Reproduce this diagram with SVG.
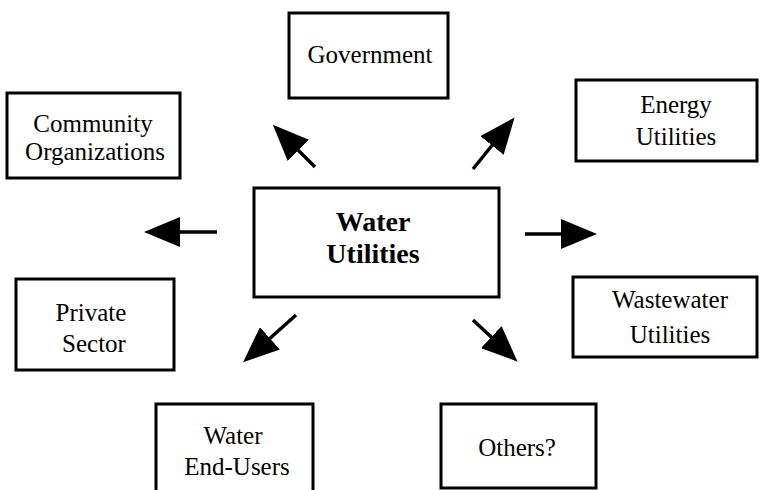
<svg xmlns="http://www.w3.org/2000/svg" width="765" height="490" viewBox="0 0 765 490">
<style>
  .box { fill: #fff; stroke: #000; stroke-width: 3; }
  .t { font-family: "Liberation Serif", "Times New Roman", serif; font-size: 25px; fill: #000; text-anchor: middle; }
  .tb { font-family: "Liberation Serif", "Times New Roman", serif; font-size: 28px; font-weight: bold; fill: #000; text-anchor: middle; }
  .conn { stroke: #000; stroke-width: 3.5; fill: none; marker-end: url(#ah); }
</style>
<defs>
  <marker id="ah" markerUnits="userSpaceOnUse" viewBox="0 0 36 30" markerWidth="36" markerHeight="30" refX="16" refY="15" orient="auto">
    <path d="M0,0 L36,15 L0,30 z" fill="#000"/>
  </marker>
</defs>
<rect width="765" height="490" fill="#fff"/>
<g id="connectors">
  <line class="conn" x1="217" y1="232" x2="164" y2="232"/>
  <line class="conn" x1="525" y1="234" x2="577" y2="234"/>
  <line class="conn" x1="315" y1="167" x2="287" y2="139"/>
  <line class="conn" x1="473" y1="169" x2="502" y2="133"/>
  <line class="conn" x1="296" y1="315" x2="258" y2="349"/>
  <line class="conn" x1="473" y1="320" x2="503" y2="348"/>
</g>
<g id="government">
  <rect class="box" x="289" y="13" width="159" height="85"/>
  <text class="t" x="370" y="63">Government</text>
</g>
<g id="community">
  <rect class="box" x="7" y="93" width="173" height="85"/>
  <text class="t" x="93" y="132">Community</text>
  <text class="t" x="95" y="160">Organizations</text>
</g>
<g id="energy">
  <rect class="box" x="576" y="80" width="181" height="81"/>
  <text class="t" x="676" y="113">Energy</text>
  <text class="t" x="676" y="145">Utilities</text>
</g>
<g id="water-utilities">
  <rect class="box" x="254" y="188" width="245" height="109"/>
  <text class="tb" x="373" y="231">Water</text>
  <text class="tb" x="373" y="263">Utilities</text>
</g>
<g id="wastewater">
  <rect class="box" x="573" y="277" width="184" height="80"/>
  <text class="t" x="670" y="308">Wastewater</text>
  <text class="t" x="670" y="343">Utilities</text>
</g>
<g id="private">
  <rect class="box" x="16" y="279" width="158" height="91"/>
  <text class="t" x="91" y="321">Private</text>
  <text class="t" x="94" y="352">Sector</text>
</g>
<g id="end-users">
  <rect class="box" x="156" y="404" width="157" height="92"/>
  <text class="t" x="233" y="444">Water</text>
  <text class="t" x="237" y="475">End-Users</text>
</g>
<g id="others">
  <rect class="box" x="441" y="404" width="155" height="84"/>
  <text class="t" x="517" y="456">Others?</text>
</g>
</svg>
